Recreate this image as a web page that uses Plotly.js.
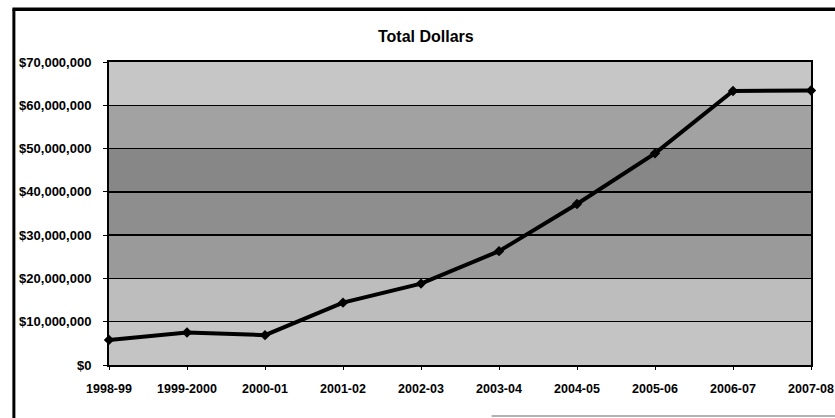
<!DOCTYPE html>
<html>
<head>
<meta charset="utf-8">
<script src="https://cdn.plot.ly/plotly-3.0.1.min.js"></script>
<style>html,body{margin:0;padding:0;background:#fff;}#chart{width:835px;height:418px;}</style>
</head>
<body>
<div id="chart"></div>
<script>
var years = ["1998-99","1999-2000","2000-01","2001-02","2002-03","2003-04","2004-05","2005-06","2006-07","2007-08"];
var totalDollars = [5800000, 7500000, 6900000, 14400000, 18800000, 26300000, 37200000, 48900000, 63300000, 63400000];
var yTicks = [0,10000000,20000000,30000000,40000000,50000000,60000000,70000000];
var yTickLabels = ["$0","$10,000,000","$20,000,000","$30,000,000","$40,000,000","$50,000,000","$60,000,000","$70,000,000"];
var bandGreys = ["#c4c4c4","#bdbdbd","#9a9a9a","#8e8e8e","#878787","#a2a2a2","#c6c6c6"];

var shapes = [];
for (var i = 0; i < bandGreys.length; i++) {
  shapes.push({type:"rect", xref:"x domain", yref:"y", x0:0, x1:1, y0:yTicks[i], y1:yTicks[i+1],
    fillcolor:bandGreys[i], line:{width:0}, layer:"below"});
}
// outer frame (scanned: only left and top edges visible, faint grey at bottom right)
shapes.push({type:"line", xref:"paper", yref:"paper", x0:-0.1355, x1:-0.1355, y0:-0.2, y1:1.176,
  line:{color:"#000", width:3}});
shapes.push({type:"line", xref:"paper", yref:"paper", x0:-0.1375, x1:1.04, y0:1.174, y1:1.174,
  line:{color:"#000", width:3.5}});
shapes.push({type:"line", xref:"paper", yref:"paper", x0:0.545, x1:1.04, y0:-0.168, y1:-0.168,
  line:{color:"#9a9a9a", width:1.5}});

var trace = {
  x: years, y: totalDollars, type:"scatter", mode:"lines+markers",
  line:{color:"#000", width:4},
  marker:{symbol:"diamond", size:8, color:"#000"},
  cliponaxis:false, hoverinfo:"skip"
};

var fnt = "Liberation Sans, Arial, sans-serif";
var layout = {
  width:835, height:418,
  margin:{l:109, r:24, t:62, b:53},
  paper_bgcolor:"#fff", plot_bgcolor:"rgba(0,0,0,0)",
  title:{text:"<b>Total Dollars</b>", x:0.51, xanchor:"center", y:0.912, yanchor:"middle",
    font:{family:fnt, size:16, color:"#000"}},
  showlegend:false,
  xaxis:{type:"category", range:[0,9], showgrid:false, zeroline:false,
    showline:true, linecolor:"#000", linewidth:2, mirror:true,
    ticks:"outside", ticklen:3, tickcolor:"#000", ticklabelstandoff:8,
    tickfont:{family:fnt, size:12.5, color:"#000", weight:"bold"}},
  yaxis:{range:[0,70000000], tickvals:yTicks, ticktext:yTickLabels,
    showgrid:true, gridcolor:"#000", gridwidth:1.5, zeroline:false,
    showline:true, linecolor:"#000", linewidth:2, mirror:true,
    ticks:"outside", ticklen:4, tickcolor:"#000", ticklabelstandoff:9,
    tickfont:{family:fnt, size:13, color:"#000", weight:"bold"}},
  shapes: shapes
};

Plotly.newPlot("chart", [trace], layout, {displayModeBar:false, staticPlot:true});
</script>
</body>
</html>
